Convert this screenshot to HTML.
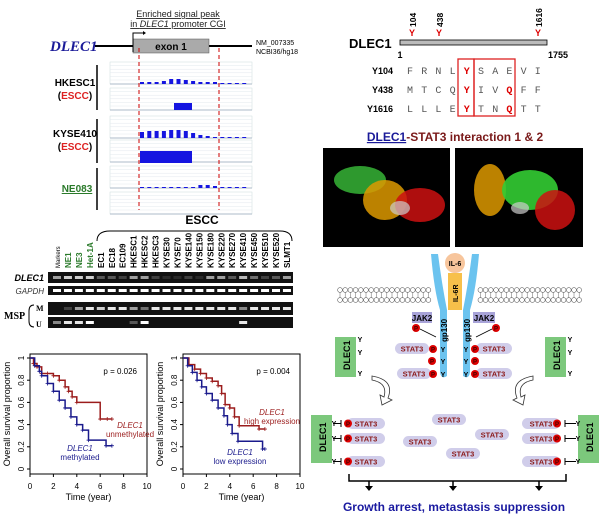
<!DOCTYPE html>
<html><head><meta charset="utf-8"><style>
body{margin:0;background:#fff}
svg{display:block;font-family:"Liberation Sans",sans-serif}
</style></head><body>
<svg id="fig" width="600" height="518" viewBox="0 0 600 518" xmlns="http://www.w3.org/2000/svg">
<g>
<text x="178" y="17" font-size="9" text-anchor="middle" text-decoration="underline" fill="#222">Enriched signal peak</text>
<text x="178" y="27" font-size="9" text-anchor="middle" fill="#222" text-decoration="underline">in <tspan font-style="italic">DLEC1</tspan> promoter CGI</text>
<text x="50" y="51" font-family="Liberation Serif,serif" font-style="italic" font-weight="bold" font-size="15" fill="#1a1a99">DLEC1</text>
<line x1="95" y1="46" x2="252" y2="46" stroke="#000" stroke-width="2"/>
<rect x="133" y="39" width="76" height="14" fill="#aaa" stroke="#555" stroke-width="0.5"/>
<text x="171" y="50" font-size="10" font-weight="bold" text-anchor="middle">exon 1</text>
<path d="M133 52V33H144" fill="none" stroke="#000" stroke-width="1"/>
<path d="M143 31l3 2-3 2z" fill="#000"/>
<text x="256" y="45" font-size="7">NM_007335</text>
<text x="256" y="54" font-size="7">NCBI36/hg18</text>
<g id="tracks"></g>
<line x1="139" y1="48" x2="139" y2="210" stroke="#c00" stroke-width="1" stroke-dasharray="4,3"/>
<line x1="219" y1="48" x2="219" y2="210" stroke="#c00" stroke-width="1" stroke-dasharray="4,3"/>
<text x="75" y="86" font-size="10" font-weight="bold" text-anchor="middle">HKESC1</text>
<text x="75" y="99" font-size="10" font-weight="bold" text-anchor="middle">(<tspan fill="#d22">ESCC</tspan>)</text>
<text x="75" y="137" font-size="10" font-weight="bold" text-anchor="middle">KYSE410</text>
<text x="75" y="150" font-size="10" font-weight="bold" text-anchor="middle">(<tspan fill="#d22">ESCC</tspan>)</text>
<text x="77" y="192" font-size="10" font-weight="bold" text-anchor="middle" fill="#2a7a2a" text-decoration="underline">NE083</text>
<line x1="97" y1="65" x2="97" y2="110" stroke="#000" stroke-width="1.5"/>
<line x1="97" y1="119" x2="97" y2="163" stroke="#000" stroke-width="1.5"/>
<line x1="97" y1="168" x2="97" y2="210" stroke="#000" stroke-width="1.5"/>
</g>
<g>
<text x="202" y="224" font-size="12" font-weight="bold" text-anchor="middle">ESCC</text>
<path d="M97 241 Q97 231 110 231 H280 Q292 231 292 241" fill="none" stroke="#000" stroke-width="1"/>
<g id="lanes"></g>
<rect x="48" y="272" width="245" height="11" fill="#111"/>
<rect x="48" y="286" width="245" height="9" fill="#111"/>
<rect x="48" y="302" width="245" height="13" fill="#111"/>
<rect x="48" y="317" width="245" height="11" fill="#111"/>
<g id="bands"></g>
<text x="44" y="281" font-size="9" font-weight="bold" font-style="italic" text-anchor="end">DLEC1</text>
<text x="44" y="294" font-size="8" font-style="italic" text-anchor="end" fill="#333">GAPDH</text>
<text x="4" y="319" font-size="10" font-weight="bold" font-family="Liberation Serif,serif">MSP</text>
<path d="M34 305 Q29 305 29 311 V321 Q29 327 34 327" fill="none" stroke="#000"/>
<text x="36" y="311" font-size="8" font-weight="bold" font-family="Liberation Serif,serif">M</text>
<text x="36" y="327" font-size="8" font-weight="bold" font-family="Liberation Serif,serif">U</text>
</g>
<g id="km"></g>
<g>
<text x="349" y="48" font-size="13" font-weight="bold">DLEC1</text>
<rect x="400" y="40" width="147" height="5" fill="#bbb" stroke="#000" stroke-width="0.8"/>
<text x="400" y="58" font-size="9" font-weight="bold" text-anchor="middle">1</text>
<text x="558" y="58" font-size="9" font-weight="bold" text-anchor="middle">1755</text>
<g font-size="9" font-weight="bold" fill="#d00" text-anchor="middle">
<text x="412" y="36">Y</text><text x="439" y="36">Y</text><text x="538" y="36">Y</text></g>
<g font-size="8.5" font-weight="bold">
<text transform="translate(416,27) rotate(-90)">104</text>
<text transform="translate(443,27) rotate(-90)">438</text>
<text transform="translate(542,27) rotate(-90)">1616</text></g>
<g id="seq" font-family="Liberation Mono,monospace" font-size="10" fill="#444"></g>
<rect x="458" y="59" width="16" height="57" fill="none" stroke="#d22" stroke-width="1.3"/>
<rect x="474" y="59" width="41" height="57" fill="none" stroke="#d22" stroke-width="1.3"/>
<text x="455" y="141" font-size="12" font-weight="bold" text-anchor="middle" fill="#7a1a1a"><tspan fill="#1a1a99" text-decoration="underline">DLEC1</tspan>-STAT3 interaction 1 &amp; 2</text>
<rect x="323" y="148" width="127" height="99" fill="#000"/>
<rect x="455" y="148" width="128" height="99" fill="#000"/>
<ellipse cx="360" cy="180" rx="26" ry="14" fill="#3a3" opacity="0.9"/>
<ellipse cx="385" cy="200" rx="22" ry="20" fill="#d90" opacity="0.85"/>
<ellipse cx="420" cy="205" rx="25" ry="17" fill="#c11" opacity="0.85"/>
<ellipse cx="400" cy="208" rx="10" ry="7" fill="#ccc" opacity="0.7"/>
<ellipse cx="490" cy="190" rx="16" ry="26" fill="#d90" opacity="0.85"/>
<ellipse cx="530" cy="190" rx="28" ry="20" fill="#3c3" opacity="0.9"/>
<ellipse cx="555" cy="210" rx="20" ry="20" fill="#c11" opacity="0.85"/>
<ellipse cx="520" cy="208" rx="9" ry="6" fill="#ccc" opacity="0.7"/>
</g>
<g>
<g id="membrane"></g>
<path d="M431 254 Q434 290 440 310 L440 372 Q441 380 447 376 L447 310 Q442 285 438 254Z" fill="#6bc3ef"/>
<path d="M479 254 Q476 290 470 310 L470 372 Q469 380 463 376 L463 310 Q468 285 472 254Z" fill="#6bc3ef"/>
<rect x="448" y="273" width="14" height="37" fill="#f7c04a"/>
<text transform="translate(458,302) rotate(-90)" font-size="7" font-weight="bold">IL-6R</text>
<circle cx="455" cy="263" r="10" fill="#f7c59c"/>
<text x="455" y="266" font-size="7" font-weight="bold" text-anchor="middle">IL-6</text>
<text transform="translate(447,342) rotate(-90)" font-size="8" font-weight="bold">gp130</text>
<text transform="translate(470,342) rotate(-90)" font-size="8" font-weight="bold">gp130</text>
<rect x="412" y="312" width="20" height="11" fill="#a8a3d8"/><text x="422" y="321" font-size="8" font-weight="bold" text-anchor="middle">JAK2</text>
<rect x="473" y="312" width="22" height="11" fill="#a8a3d8"/><text x="484" y="321" font-size="8" font-weight="bold" text-anchor="middle">JAK2</text>
<g id="pathitems"></g>
<path d="M372 376 Q395 380 388 398 L392 400 L382 405 L380 395 L384 397 Q388 383 372 380Z" fill="#fff" stroke="#333" stroke-width="0.8"/>
<path d="M533 376 Q510 380 517 398 L513 400 L523 405 L525 395 L521 397 Q517 383 533 380Z" fill="#fff" stroke="#333" stroke-width="0.8"/>
<path d="M349 474V481H566V474M453 481V489" fill="none" stroke="#000" stroke-width="1.5"/>
<path d="M365 486h8l-4 5z M449 486h8l-4 5z M535 486h8l-4 5z" fill="#000"/>
<path d="M369 481v6M539 481v6" stroke="#000" stroke-width="1.5"/>
<text x="454" y="511" font-size="12" font-weight="bold" text-anchor="middle" fill="#1a1aa0">Growth arrest, metastasis suppression</text>
</g>
</svg>
<script>
const NS='http://www.w3.org/2000/svg';
function mk(p,t,a,txt){const e=document.createElementNS(NS,t);for(const k in a)e.setAttribute(k,a[k]);if(txt!==undefined)e.textContent=txt;p.appendChild(e);return e;}
// ---- ChIP tracks ----
const trackTops=[62,88,116,140,166,192];
const hk1Bars=[2,2,2,3,5,5,4,3,2,2,2,1,1,1,1];
const ky1Bars=[6,7,7,7,8,8,7,5,3,2,1,1,1,1,1];
const ne1Bars=[1,1,1,1,1,1,1,1,3,3,2,1,1,1,1];
const tr=document.getElementById('tracks');
trackTops.forEach((t,i)=>{
  mk(tr,'rect',{x:110,y:t,width:142,height:22,fill:'#fff',stroke:'#cdd','stroke-width':0.5});
  for(let k=1;k<6;k++)mk(tr,'line',{x1:110,x2:252,y1:t+k*3.6,y2:t+k*3.6,stroke:'#e3e8ee','stroke-width':0.5});
  mk(tr,'line',{x1:110,x2:252,y1:t+22,y2:t+22,stroke:'#9ab','stroke-width':0.8});
});
[[hk1Bars,62],[ky1Bars,116],[ne1Bars,166]].forEach(([arr,t])=>{
  arr.forEach((h,j)=>{const b=mk(tr,'rect',{x:140+j*7.3,y:t+22-h,width:4,height:h,fill:'#1515e0'});
  
  });
});
mk(tr,'rect',{x:174,y:103,width:18,height:7,fill:'#1515e0'});
mk(tr,'rect',{x:140,y:151,width:52,height:12,fill:'#1515e0'});
// ---- Gel ----
const lanes=['Markers','NE1','NE3','Het-1A','EC1','EC18','EC109','HKESC1','HKESC2','HKESC3','KYSE30','KYSE70','KYSE140','KYSE150','KYSE180','KYSE220','KYSE270','KYSE410','KYSE450','KYSE510','KYSE520','SLMT1'];
const dlec=[0.6,0.8,0.8,0.8,0.3,0.3,0.2,0.6,0.6,0.2,0.1,0.1,0.2,0.1,0.6,0.6,0.3,0.7,0.4,0.2,0.3,0.6];
const methM=[0,0.2,0.6,0.9,0.8,0.9,0.9,0.6,0.4,0.9,0.9,0.9,0.9,0.9,0.9,0.9,0.9,0.5,0.9,0.9,0.9,0.9];
const unmU=[0.5,0.9,0.9,1,0,0,0,0.3,1,0,0,0,0,0,0,0,0,0.9,0,0,0,0];
const lg=document.getElementById('lanes'),bd=document.getElementById('bands');
lanes.forEach((n,i)=>{const x=57+i*10.95;const green=i>=1&&i<=3;
  const t=mk(lg,'text',{transform:`translate(${x+3},268) rotate(-90)`,'font-size':i==0?6:8,'font-weight':i==0?'normal':'bold',fill:green?'#2a7a2a':'#000'},n);
  
  [[dlec[i],276],[1,289],[methM[i],307],[unmU[i],321]].forEach(([v,y])=>{if(v>0)mk(bd,'rect',{x:x-4,y:y,width:8,height:3,fill:'#fff',opacity:v});});
});
// ---- Sequence ----
const seqRows=[['Y104','FRNLYSAEVI',[4]],['Y438','MTCQYIVQFF',[4,7]],['Y1616','LLLEYTNQTT',[4,7]]];
const sq=document.getElementById('seq');
seqRows.forEach((r,i)=>{const y=74+i*19;
  mk(sq,'text',{x:393,y:y,'text-anchor':'end','font-family':'Liberation Sans,sans-serif','font-weight':'bold','font-size':9,fill:'#000'},r[0]);
  [...r[1]].forEach((c,j)=>mk(sq,'text',{x:410+j*14.2,y:y,'text-anchor':'middle',fill:r[2].includes(j)?'#d00':'#555','font-weight':r[2].includes(j)?'bold':'normal'},c));
});
// ---- Membrane ----
const mb=document.getElementById('membrane');
for(let x=340;x<=580;x+=5.2){if(x>432&&x<478)continue;
  [290,300].forEach(y=>mk(mb,'circle',{cx:x,cy:y,r:2.4,fill:'#fff',stroke:'#666','stroke-width':0.6}));
  mk(mb,'line',{x1:x,x2:x,y1:292,y2:298,stroke:'#666','stroke-width':0.5});}
// ---- Pathway items ----
const pi=document.getElementById('pathitems');
function stat(x,y,w){mk(pi,'rect',{x:x,y:y,width:w,height:11,rx:5.5,fill:'#d0cdea'});mk(pi,'text',{x:x+w/2,y:y+8.5,'font-size':7.5,'font-weight':'bold','text-anchor':'middle',fill:'#8b1a1a'},'STAT3');}
function P(x,y){mk(pi,'circle',{cx:x,cy:y,r:4,fill:'#d00'});mk(pi,'text',{x:x,y:y+2.5,'font-size':6,'font-weight':'bold','text-anchor':'middle',fill:'#400'},'P');}
function Y(x,y){mk(pi,'text',{x:x,y:y,'font-size':7,'font-weight':'bold','text-anchor':'middle'},'Y');}
function dl(x,y,h){mk(pi,'rect',{x:x,y:y,width:21,height:h,fill:'#7cc87c'});mk(pi,'text',{transform:`translate(${x+15},${y+h/2+13}) rotate(-90)`,'font-size':9,'font-weight':'bold'},'DLEC1');}
stat(395,343,34);stat(397,368,34);stat(476,343,36);stat(476,368,36);
[[433,349],[432,361],[433,374],[475,349],[475,361],[475,374],[416,328],[496,328]].forEach(a=>P(a[0],a[1]));
[[443,352],[443,364],[443,377],[466,352],[466,364],[466,377]].forEach(a=>Y(a[0],a[1]));
mk(pi,'path',{d:'M420 329L436 337M492 329L476 337',stroke:'#000','stroke-width':0.8});
dl(335,337,40);dl(545,337,40);
[[360,342],[360,355],[360,376],[570,342],[570,355],[570,376]].forEach(a=>Y(a[0],a[1]));
dl(311,415,48);dl(578,415,48);
[418,433,456].forEach(y=>{stat(347,y,38);P(348,y+5.5);mk(pi,'path',{d:`M333 ${y+5.5}H341M341 ${y+2}V${y+9}`,stroke:'#000'});Y(334,y+8);
  stat(522,y,38);P(557,y+5.5);mk(pi,'path',{d:`M565 ${y+5.5}H576M565 ${y+2}V${y+9}`,stroke:'#000'});Y(578,y+8);});
[[432,414],[403,436],[475,429],[446,448]].forEach(a=>stat(a[0],a[1],34));
// ---- KM plots ----
const kmPlots=[{x:30,p:'p = 0.026'},{x:183,p:'p = 0.004'}];
const km1RedT=[0,0.3,0.6,1,1.5,2,2.5,3,3.3,3.6,4,6,6.6,7];
const km1RedS=[1,0.95,0.92,0.86,0.86,0.84,0.8,0.74,0.7,0.65,0.6,0.45,0.45,0.45];
const km1BlueT=[0,0.4,0.8,1,1.5,2,2.5,3,3.5,4,4.5,5,6.5,7];
const km1BlueS=[1,0.93,0.88,0.84,0.77,0.7,0.62,0.55,0.47,0.4,0.35,0.26,0.21,0.21];
const km2RedT=[0,0.5,1,1.5,2,2.5,3,3.3,3.6,4,4.4,4.8,6.5,7];
const km2RedS=[1,0.94,0.9,0.86,0.82,0.79,0.75,0.68,0.58,0.55,0.47,0.39,0.36,0.36];
const km2BlueT=[0,0.4,0.8,1.2,1.6,2,2.5,3,3.5,3.8,4.2,4.7,6.8,7];
const km2BlueS=[1,0.93,0.87,0.8,0.74,0.68,0.62,0.55,0.48,0.4,0.32,0.25,0.18,0.18];
const xTicks=[0,2,4,6,8,10];
const yTicks=[0,0.2,0.4,0.6,0.8,1];
const series=[[[km1RedT,km1RedS,'#9b1c1c'],[km1BlueT,km1BlueS,'#1a1a8c']],[[km2RedT,km2RedS,'#9b1c1c'],[km2BlueT,km2BlueS,'#1a1a8c']]];
const km=document.getElementById('km');
kmPlots.forEach((pl,pi2)=>{
  const X0=pl.x,W=117,Ytop=354,H=120;
  const sx=t=>X0+t/10*W, sy=s=>469-s*(469-358);
  const fr=mk(km,'rect',{x:X0,y:Ytop,width:W,height:H,fill:'none',stroke:'#000','stroke-width':1});
  
  xTicks.forEach(t=>{mk(km,'line',{x1:sx(t),x2:sx(t),y1:Ytop+H,y2:Ytop+H+3,stroke:'#000'});mk(km,'text',{x:sx(t),y:489,'font-size':8,'text-anchor':'middle'},t);});
  yTicks.forEach(v=>{mk(km,'line',{x1:X0-3,x2:X0,y1:sy(v),y2:sy(v),stroke:'#000'});mk(km,'text',{transform:`translate(${X0-6},${sy(v)}) rotate(-90)`,'font-size':8,'text-anchor':'middle'},v);});
  mk(km,'text',{x:X0+W/2,y:500,'font-size':9,'text-anchor':'middle'},'Time (year)');
  mk(km,'text',{transform:`translate(${X0-20},414) rotate(-90)`,'font-size':9,'text-anchor':'middle'},'Overall survival proportion');
  mk(km,'text',{x:X0+W-10,y:374,'font-size':8,'text-anchor':'end'},pl.p);
  series[pi2].forEach(([T,S,c])=>{let d=`M${sx(T[0])} ${sy(S[0])}`;
    for(let i=1;i<T.length;i++)d+=`H${sx(T[i])}V${sy(S[i])}`;
    const ln=mk(km,'path',{d:d,fill:'none',stroke:c,'stroke-width':1.5});
    
    for(let i=1;i<T.length;i++){const cx=sx(T[i]),cy=sy(S[i]);mk(km,'path',{d:`M${cx-2} ${cy}h4M${cx} ${cy-2}v4`,stroke:c,'stroke-width':0.8});}
  });
});
const lbl=[[130,428,'#9b1c1c','DLEC1','unmethylated'],[80,451,'#1a1a8c','DLEC1','methylated'],[272,415,'#9b1c1c','DLEC1','high expression'],[240,455,'#1a1a8c','DLEC1','low expression']];
lbl.forEach(([x,y,c,a,b])=>{mk(km,'text',{x:x,y:y,'font-size':8,'font-style':'italic','text-anchor':'middle',fill:c},a);mk(km,'text',{x:x,y:y+9,'font-size':8,'text-anchor':'middle',fill:c},b);});
</script>
</body></html>
